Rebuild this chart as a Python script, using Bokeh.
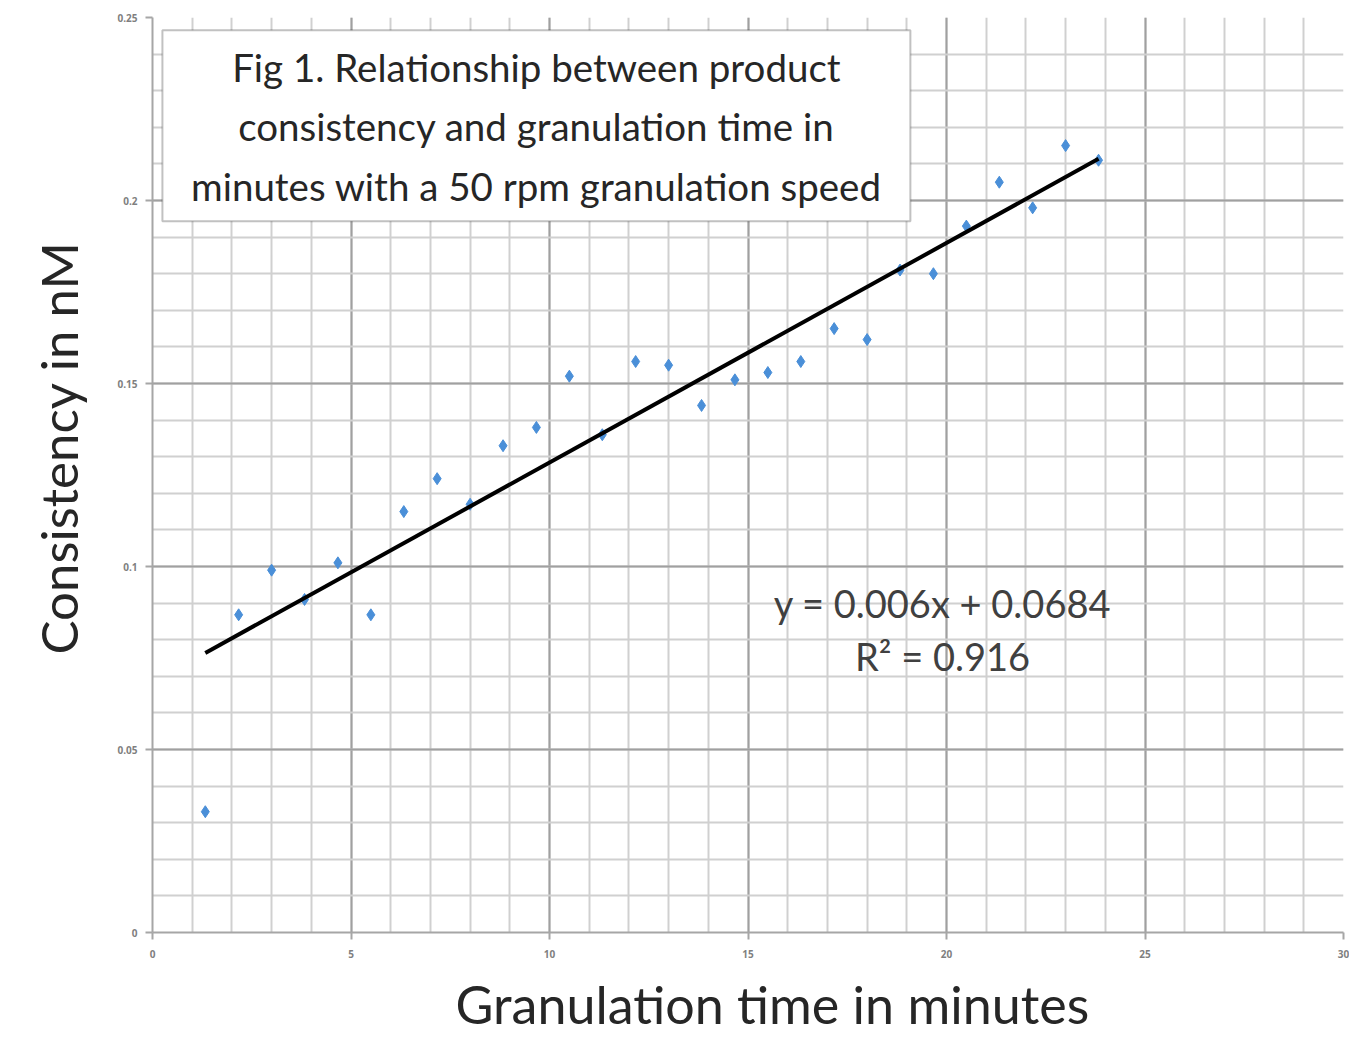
from bokeh.plotting import figure
from bokeh.models import (SingleIntervalTicker, Label, BoxAnnotation, Range1d,
                          ColumnDataSource, Title)
from bokeh.embed import file_html
from bokeh.resources import INLINE

# ---- data ----
granulation_minutes = [1.33, 2.17, 3.0, 3.83, 4.67, 5.5, 6.33, 7.17, 8.0, 8.83,
                       9.67, 10.5, 11.33, 12.17, 13.0, 13.83, 14.67, 15.5, 16.33,
                       17.17, 18.0, 18.83, 19.67, 20.5, 21.33, 22.17, 23.0, 23.83]
consistency_nM = [0.033, 0.0868, 0.099, 0.091, 0.101, 0.0868, 0.115, 0.124,
                  0.117, 0.133, 0.138, 0.152, 0.136, 0.156, 0.155, 0.144, 0.151,
                  0.153, 0.156, 0.165, 0.162, 0.181, 0.180, 0.193, 0.205, 0.198,
                  0.215, 0.211]
trend_slope = 0.006
trend_intercept = 0.0684
r_squared = 0.916
x_ticks = [0, 5, 10, 15, 20, 25, 30]
y_ticks = [0, 0.05, 0.1, 0.15, 0.2, 0.25]

FONT = "Lato"

p = figure(width=1349, height=1044, output_backend="svg", toolbar_location=None,
           x_range=Range1d(0, 30), y_range=Range1d(0, 0.25),
           min_border_left=152, min_border_right=6, min_border_top=17,
           min_border_bottom=111)
p.outline_line_color = None
p.background_fill_color = "white"
p.border_fill_color = "white"

# axes
p.xaxis.ticker = SingleIntervalTicker(interval=5, num_minor_ticks=5)
p.yaxis.ticker = SingleIntervalTicker(interval=0.05, num_minor_ticks=5)
p.xaxis.major_label_overrides = {t: str(t) for t in x_ticks}
p.yaxis.major_label_overrides = {t: ("0" if t == 0 else ("%g" % t)) for t in y_ticks}
for ax in (p.xaxis, p.yaxis):
    ax.axis_line_color = "#a6a6a6"
    ax.axis_line_width = 2
    ax.major_tick_line_color = "#a6a6a6"
    ax.major_tick_line_width = 2
    ax.major_tick_out = 7
    ax.major_tick_in = 0
    ax.minor_tick_out = 0
    ax.minor_tick_in = 0
    ax.major_label_text_font = "Open Sans"
    ax.major_label_text_font_size = "10px"
    ax.major_label_text_color = "#7f7f7f"
    ax.major_label_text_font_style = "bold"
p.yaxis.major_label_standoff = 8
p.xaxis.major_label_standoff = 10

# grids
for g in (p.xgrid, p.ygrid):
    g.grid_line_color = "#a0a0a0"
    g.grid_line_width = 2
    g.minor_grid_line_color = "#d0d0d0"
    g.minor_grid_line_width = 2

# scatter
src = ColumnDataSource(dict(x=granulation_minutes, y=consistency_nM))
p.scatter("x", "y", source=src, marker="diamond", size=12,
          fill_color="#4a8fd8", line_color="#4a8fd8")

# trend line from the fitted equation over the data span
x0, x1 = min(granulation_minutes), max(granulation_minutes)
p.line([x0, x1], [trend_slope * x0 + trend_intercept, trend_slope * x1 + trend_intercept],
       line_color="black", line_width=4)

# title box
p.add_layout(BoxAnnotation(left=0.25, right=19.09, top=0.2465, bottom=0.1943,
                           fill_color="white", fill_alpha=1.0,
                           line_color="#333333", line_width=2, level="annotation"))
title_lines = ["Fig 1. Relationship between product",
               "consistency and granulation time in",
               "minutes with a 50 rpm granulation speed"]
for txt, yy in zip(title_lines, [0.2366, 0.2203, 0.2039]):
    p.add_layout(Label(x=9.67, y=yy, text=txt, text_align="center",
                       text_baseline="middle", text_font=FONT,
                       text_font_size="38.5px", text_color="#262626"))

# equation
p.add_layout(Label(x=19.9, y=0.0901,
                   text="y = %gx + %g" % (trend_slope, trend_intercept),
                   text_align="center", text_baseline="middle", text_font=FONT,
                   text_font_size="38px", text_color="#404040"))
p.add_layout(Label(x=19.9, y=0.0756, text="R² = %g" % r_squared,
                   text_align="center", text_baseline="middle", text_font=FONT,
                   text_font_size="38px", text_color="#404040"))

# axis titles
p.add_layout(Title(text="Granulation time in minutes", align="left", offset=303,
                   text_font=FONT, text_font_size="52px", text_font_style="normal",
                   text_color="#262626", standoff=20, text_line_height=0.6), "below")
p.add_layout(Title(text="Consistency in nM", align="left", offset=278,
                   text_font=FONT, text_font_size="51px", text_font_style="normal",
                   text_color="#262626", standoff=51, text_line_height=0.6), "left")

open("out.html", "w").write(file_html(p, INLINE))
